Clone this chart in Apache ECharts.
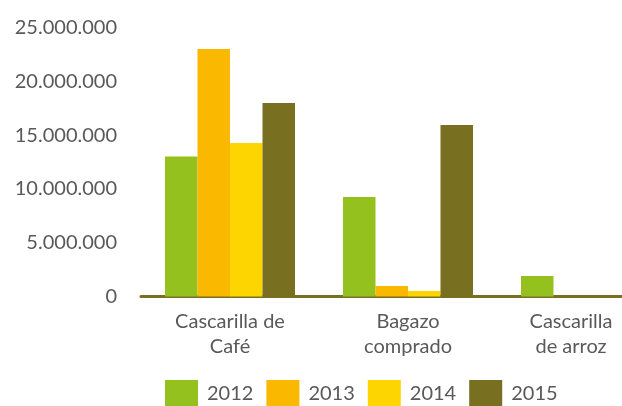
<!DOCTYPE html>
<html lang="es">
<head>
    <meta charset="UTF-8">
    <title>residuos</title>
    <script src="https://cdn.jsdelivr.net/npm/echarts@6/dist/echarts.min.js"></script>
    <style>
        html, body { margin: 0; padding: 0; background: #fff; }
        .box { width: 622px; height: 406px; }
    </style>
</head>
<body>
    <div class="box"></div>
    <script>
        // datos
        var categorias = ['Cascarilla de\nCafé', 'Bagazo\ncomprado', 'Cascarilla\nde arroz']
        var anios = ['2012', '2013', '2014', '2015']
        var v2012 = [13000000, 9250000, 1900000]
        var v2013 = [23000000, 980000, 0]
        var v2014 = [14270000, 510000, 0]
        var v2015 = [17980000, 15940000, 0]
        var colores = ['#95C11F', '#FAB800', '#FDD500', '#786F21']

        var valores = [v2012, v2013, v2014, v2015]
        var fuente = 'Lato, "Open Sans", sans-serif'

        function puntos(n) {
            return String(n).replace(/\B(?=(\d{3})+(?!\d))/g, '.')
        }

        let oBox = document.querySelector('.box')
        let chart = echarts.init(oBox)

        let option = {
            animation: false,
            textStyle: { fontFamily: fuente },
            legend: {
                data: anios,
                left: 165,
                top: 380,
                padding: 0,
                icon: 'rect',
                itemWidth: 33,
                itemHeight: 28,
                itemGap: 13,
                textStyle: {
                    fontFamily: fuente,
                    fontSize: 20,
                    color: '#595959',
                    padding: [0, 0, 0, 4]
                }
            },
            grid: {
                left: 141,
                top: 27.5,
                bottom: 109.5,
                width: 534,
                outerBoundsMode: 'none'
            },
            xAxis: {
                type: 'category',
                data: categorias.map(function (c, i) {
                    if (i == 2) return { value: c, textStyle: { padding: [0, 30, 0, 0] } }
                    return c
                }),
                axisLine: { lineStyle: { color: '#786F21', width: 3 } },
                axisTick: { show: false },
                axisLabel: {
                    interval: 0,
                    margin: 13,
                    fontFamily: fuente,
                    fontSize: 20,
                    lineHeight: 25,
                    color: '#595959'
                }
            },
            yAxis: {
                type: 'value',
                min: 0,
                max: 25000000,
                interval: 5000000,
                axisLine: { show: false },
                axisTick: { show: false },
                splitLine: { show: false },
                axisLabel: {
                    margin: 24,
                    fontFamily: fuente,
                    fontSize: 20,
                    color: '#595959',
                    formatter: puntos
                }
            },
            series: anios.map(function (a, i) {
                return {
                    name: a,
                    type: 'bar',
                    data: valores[i],
                    barWidth: 32.5,
                    barGap: '0%',
                    itemStyle: { color: colores[i] }
                }
            })
        }
        chart.setOption(option)
    </script>
</body>
</html>
